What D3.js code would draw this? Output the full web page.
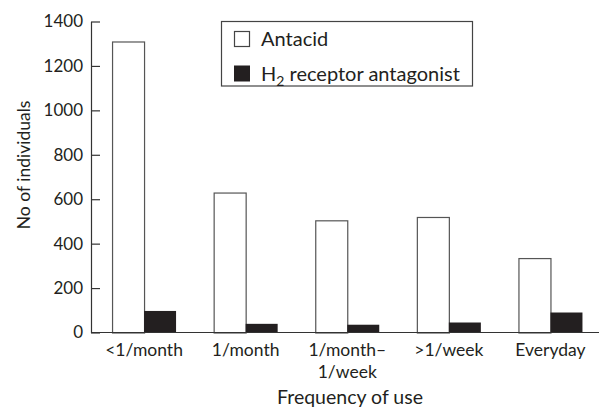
<!DOCTYPE html>
<html>
<head>
<meta charset="utf-8">
<script src="https://cdn.jsdelivr.net/npm/d3@7"></script>
<style>
  html, body { margin: 0; padding: 0; background: #fff; }
  text { font-family: "Lato", "Open Sans", sans-serif; fill: #231f20; }
</style>
</head>
<body>
<svg id="chart" width="599" height="408"></svg>
<script>
const categories = ["<1/month", "1/month", "1/month–\n1/week", ">1/week", "Everyday"];
const seriesNames = ["Antacid", "H2 receptor antagonist"];
const antacid = [1310, 630, 505, 520, 335];
const h2antagonist = [97, 39, 35, 45, 90];
const yTicks = [0, 200, 400, 600, 800, 1000, 1200, 1400];

const svg = d3.select("#chart");
const axisColor = "#333";
const plotLeft = 91, plotRight = 599, plotTop = 21.5, plotBottom = 332.5;

const x0 = d3.scaleBand().domain(categories).range([plotLeft, plotRight])
  .paddingInner(0.37).paddingOuter(0.185).align(0.56);
const x1 = d3.scaleBand().domain(seriesNames).range([0, x0.bandwidth()]);
const y = d3.scaleLinear().domain([0, 1400]).range([plotBottom, plotTop]);

const data = categories.map((c, i) => ({cat: c, vals: [antacid[i], h2antagonist[i]]}));

// bars
const g = svg.append("g");
data.forEach(d => {
  d.vals.forEach((v, j) => {
    g.append("rect")
      .attr("x", x0(d.cat) + x1(seriesNames[j]) + (j === 0 ? 0.5 : 0))
      .attr("y", y(v) + (j === 0 ? 0.5 : 0))
      .attr("width", x1.bandwidth())
      .attr("height", plotBottom - y(v))
      .attr("fill", j === 0 ? "#fff" : "#231f20")
      .attr("stroke", j === 0 ? "#555" : "none")
      .attr("stroke-width", 1.2);
  });
});

// y axis
const yAxis = d3.axisLeft(y).tickValues(yTicks).tickFormat(d3.format("d"))
  .tickSizeInner(-9).tickSizeOuter(0).tickPadding(8);
const yg = svg.append("g").attr("transform", `translate(${plotLeft},0)`).call(yAxis);
yg.select(".domain").attr("stroke", axisColor).attr("stroke-width", 1.2);
yg.selectAll(".tick line").attr("stroke", axisColor).attr("stroke-width", 1.2);
yg.selectAll(".tick text").attr("font-size", 17).attr("fill", "#231f20")
  .style("font-family", '"Lato", sans-serif');

// x axis baseline
svg.append("line").attr("x1", plotLeft).attr("x2", plotRight).attr("y1", plotBottom).attr("y2", plotBottom)
  .attr("stroke", axisColor).attr("stroke-width", 1.2);

// x labels
categories.forEach(c => {
  const lines = c.split("\n");
  const t = svg.append("text").attr("text-anchor", "middle").attr("font-size", 17.5)
    .attr("x", x0(c) + x0.bandwidth() / 2).attr("y", 356);
  lines.forEach((l, k) => {
    t.append("tspan").attr("x", x0(c) + x0.bandwidth() / 2).attr("dy", k === 0 ? 0 : 21.5).text(l);
  });
});

// axis titles
svg.append("text").attr("text-anchor", "middle").attr("font-size", 19.5)
  .attr("x", 350).attr("y", 403.5).text("Frequency of use");
svg.append("text").attr("text-anchor", "middle").attr("font-size", 17.5)
  .attr("transform", "translate(30,165) rotate(-90)").text("No of individuals");

// legend
const lg = svg.append("g");
lg.append("rect").attr("x", 221.5).attr("y", 21.5).attr("width", 251).attr("height", 64.5)
  .attr("fill", "#fff").attr("stroke", "#444").attr("stroke-width", 1.2);
lg.append("rect").attr("x", 234.5).attr("y", 31.5).attr("width", 15).attr("height", 15)
  .attr("fill", "#fff").attr("stroke", "#444").attr("stroke-width", 1.2);
lg.append("rect").attr("x", 234).attr("y", 65.5).attr("width", 16).attr("height", 16)
  .attr("fill", "#231f20");
lg.append("text").attr("x", 261).attr("y", 46).attr("font-size", 20).text("Antacid");
const t2 = lg.append("text").attr("x", 261).attr("y", 81).attr("font-size", 20);
t2.append("tspan").text("H");
t2.append("tspan").attr("font-size", 14).attr("dy", 5).text("2");
t2.append("tspan").attr("dy", -5).text(" receptor antagonist");
</script>
</body>
</html>
